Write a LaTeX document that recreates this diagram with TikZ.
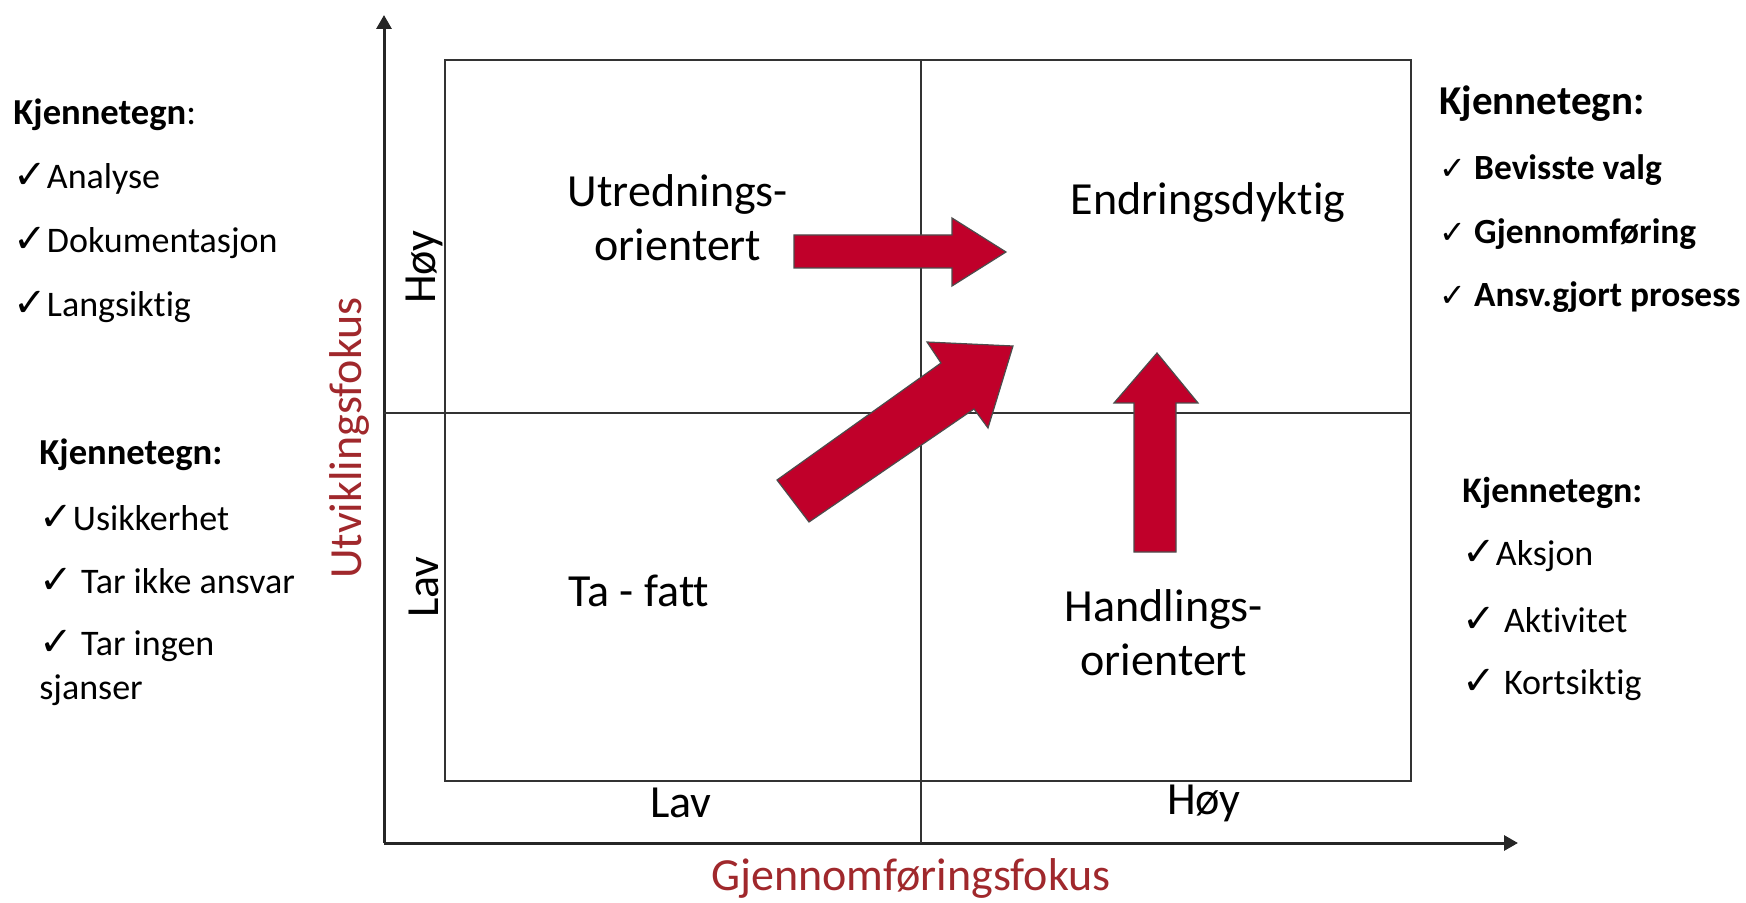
\documentclass[tikz,border=0pt]{standalone}
\usepackage{fontspec}
\setmainfont{Carlito}[Ligatures=NoCommon]
\newfontfamily\symf{DejaVu Sans}
\usetikzlibrary{arrows.meta}
\definecolor{arrowred}{HTML}{C0002A}
\definecolor{axisred}{HTML}{A0282C}
\newcommand{\ck}{{\symf\fontsize{20}{20}\selectfont ✓}}
\newcommand{\cks}{{\symf\fontsize{16}{16}\selectfont ✓}}
\begin{document}
\begin{tikzpicture}[x=0.5pt,y=-0.5pt,
  lbl/.style={font=\fontsize{23}{25}\selectfont, align=center, inner sep=0},
  item/.style={font=\fontsize{18}{20}\selectfont, anchor=west, inner sep=0},
  itemb/.style={font=\fontsize{17.7}{20}\selectfont\bfseries, anchor=west, inner sep=0},
  head/.style={font=\fontsize{18.3}{20}\selectfont\bfseries, anchor=west, inner sep=0},
  blk/.style={fill=arrowred, draw=black!70, line width=0.6pt, line join=miter},
  ln/.style={line width=1pt, draw=black!80},
  ax/.style={line width=1.5pt, draw=black!85, -{Triangle[length=7pt,width=7.5pt]}},
  axlbl/.style={font=\fontsize{23}{25}\selectfont, text=axisred, inner sep=0}]
\useasboundingbox (0,0) rectangle (1746,903);
% axes
\coordinate (O) at (384,843);
\coordinate (Ytop) at (384,15);
\coordinate (Xend) at (1518,843);
\draw[ax] (O) -- (Ytop);
\draw[ax] (O) -- (Xend);
% frame and dividers
\draw[ln] (445,60) rectangle (1411,781);
\coordinate (Vt) at (921,60);
\coordinate (Vb) at (921,843);
\draw[ln] (Vt) -- (Vb);
\coordinate (Hl) at (384,413);
\coordinate (Hr) at (1411,413);
\draw[ln] (Hl) -- (Hr);
% block arrows
\draw[blk] (794,235) -- (952,235) -- (952,218) -- (1006,252) -- (952,286) -- (952,268) -- (794,268) -- cycle;
\draw[blk] (777,480) -- (941,363) -- (927,342) -- (1013,346) -- (988,428) -- (974,409) -- (809,522) -- cycle;
\draw[blk] (1134,552) -- (1134,403) -- (1114,403) -- (1157,353) -- (1198,403) -- (1176,403) -- (1176,552) -- cycle;
% quadrant labels
\node[lbl] (utr) at (678,218) {Utrednings-\\[2pt]orientert};
\node[lbl] (endr) at (1208,202) {Endringsdyktig};
\node[lbl] (tafatt) at (639,591) {Ta - fatt};
\node[lbl] (handl) at (1164,633) {Handlings-\\[2pt]orientert};
% axis ticks labels
\node[lbl, rotate=90] (hoyY) at (424,267) {Høy};
\node[lbl, rotate=90] (lavY) at (424,587) {Lav};
\node[lbl] (lavX) at (681,803) {Lav};
\node[lbl] (hoyX) at (1204,803) {Høy};
\node[axlbl, rotate=90] (yl) at (349,438) {Utviklingsfokus};
\node[axlbl] (xl) at (911,878) {Gjennomføringsfokus};
% left top list
\node[head] (k1) at (13,115) {Kjennetegn\normalfont:};
\node[item] (a1) at (13,179) {\ck Analyse};
\node[item] (a2) at (13,243) {\ck Dokumentasjon};
\node[item] (a3) at (13,307) {\ck Langsiktig};
% left bottom list
\node[head] (k2) at (39,455) {Kjennetegn:};
\node[item] (b1) at (39,518) {\ck Usikkerhet};
\node[item] (b2) at (39,581) {\ck{} Tar ikke ansvar};
\node[item] (b3) at (39,646) {\ck{} Tar ingen};
\node[item] (b4) at (39,690) {sjanser};
% right top list
\node[head, font=\fontsize{20.5}{22}\selectfont\bfseries] (k3) at (1439,104) {Kjennetegn:};
\node[itemb] (c1) at (1439,170) {\cks{} Bevisste valg};
\node[itemb] (c2) at (1439,234) {\cks{} Gjennomføring};
\node[itemb] (c3) at (1439,297) {\cks{} Ansv.gjort prosess};
% right bottom list
\node[head, font=\fontsize{18}{20}\selectfont\bfseries] (k4) at (1462,493) {Kjennetegn:};
\node[item] (d1) at (1462,556) {\ck Aksjon};
\node[item] (d2) at (1462,620) {\ck{} Aktivitet};
\node[item] (d3) at (1462,685) {\ck{} Kortsiktig};
\end{tikzpicture}
\end{document}
